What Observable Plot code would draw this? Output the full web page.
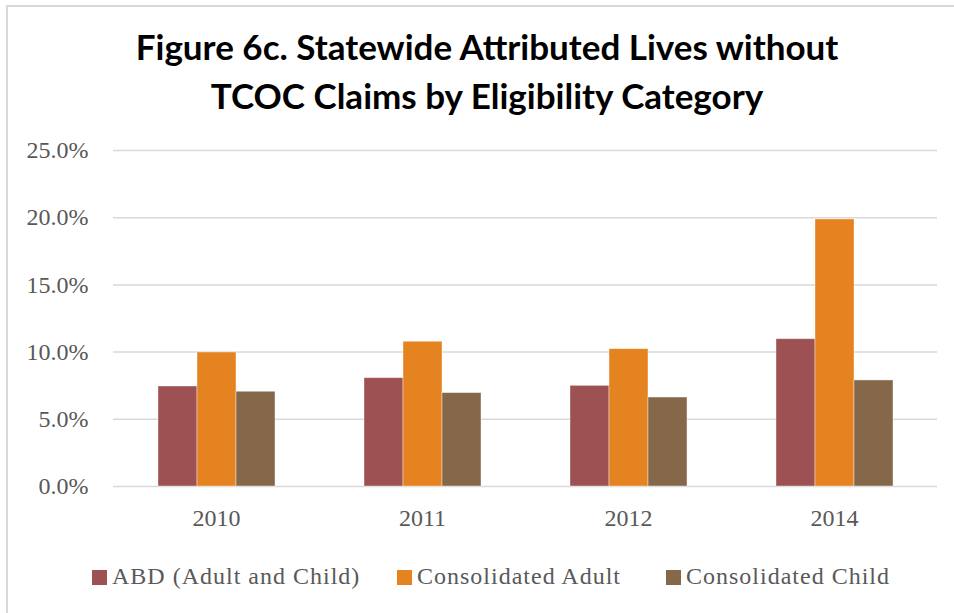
<!DOCTYPE html>
<html>
<head>
<meta charset="utf-8">
<script src="https://cdn.jsdelivr.net/npm/d3@7"></script>
<script src="https://cdn.jsdelivr.net/npm/@observablehq/plot@0.6"></script>
<style>
  html, body { margin: 0; padding: 0; background: #fff; }
  #wrap { position: relative; width: 954px; height: 613px; overflow: hidden; background: #fff; }
  #frame { position: absolute; left: 6px; top: 5px; width: 1000px; height: 700px;
           border-left: 2px solid #d9d9d9; border-top: 2px solid #d9d9d9; }
  #title { position: absolute; left: 10px; top: 22px; width: 954px; text-align: center;
           font-family: Lato, "Open Sans", sans-serif; font-weight: 700; font-size: 35px;
           line-height: 49px; color: #000; }
  #chart { position: absolute; left: 0; top: 130px; }
  .leg { position: absolute; top: 562px; font-family: "Liberation Serif", serif; font-size: 24px;
         letter-spacing: 1px; color: #595959; white-space: nowrap; line-height: 28px; }
  .leg i { display: inline-block; width: 15px; height: 15px; margin-right: 5px; vertical-align: -1px; }
</style>
</head>
<body>
<div id="wrap">
  <div id="frame"></div>
  <div id="title">Figure 6c. Statewide Attributed Lives without<br>TCOC Claims by Eligibility Category</div>
  <div id="chart"></div>
  <div id="legend"></div>
</div>
<script>
const years = ["2010", "2011", "2012", "2014"];
const series = ["ABD (Adult and Child)", "Consolidated Adult", "Consolidated Child"];
const abd = [7.44, 8.06, 7.49, 10.96];
const adult = [9.97, 10.77, 10.22, 19.87];
const child = [7.05, 6.95, 6.62, 7.89];
const colors = ["#9d5152", "#e58321", "#85674a"];
const yTicks = [0, 5, 10, 15, 20, 25];
const legendLeft = [92, 397, 666];

const seriesValues = [abd, adult, child];
const data = years.flatMap((yr, i) =>
  series.map((s, k) => ({ year: yr, series: s, value: seriesValues[k][i] })));

const chart = Plot.plot({
  width: 954,
  height: 410,
  marginTop: 20,
  marginBottom: 54,
  marginLeft: 111,
  marginRight: 16,
  style: { fontFamily: "'Liberation Serif', serif", fontSize: "24px", color: "#595959", background: "transparent" },
  fx: { domain: years, padding: 0, label: null, axis: "bottom", tickSize: 0, tickPadding: 22 },
  x: { domain: series, paddingInner: 0, paddingOuter: 1.1, axis: null },
  y: { domain: [0, 25], ticks: yTicks, tickFormat: d => d.toFixed(1) + "%", label: null, tickSize: 0, tickPadding: 25 },
  color: { domain: series, range: colors },
  marks: [
    Plot.ruleY(yTicks, { stroke: "#d9d9d9", strokeWidth: 1.5 }),
    Plot.barY(data, { fx: "year", x: "series", y: "value", fill: "series", stroke: "#ffffff", strokeOpacity: 0.5, strokeWidth: 0.8 })
  ]
});
document.getElementById("chart").appendChild(chart);

const legend = document.getElementById("legend");
series.forEach((s, k) => {
  const d = document.createElement("div");
  d.className = "leg";
  d.style.left = legendLeft[k] + "px";
  const sw = document.createElement("i");
  sw.style.background = colors[k];
  d.appendChild(sw);
  d.appendChild(document.createTextNode(s));
  legend.appendChild(d);
});
</script>
</body>
</html>
